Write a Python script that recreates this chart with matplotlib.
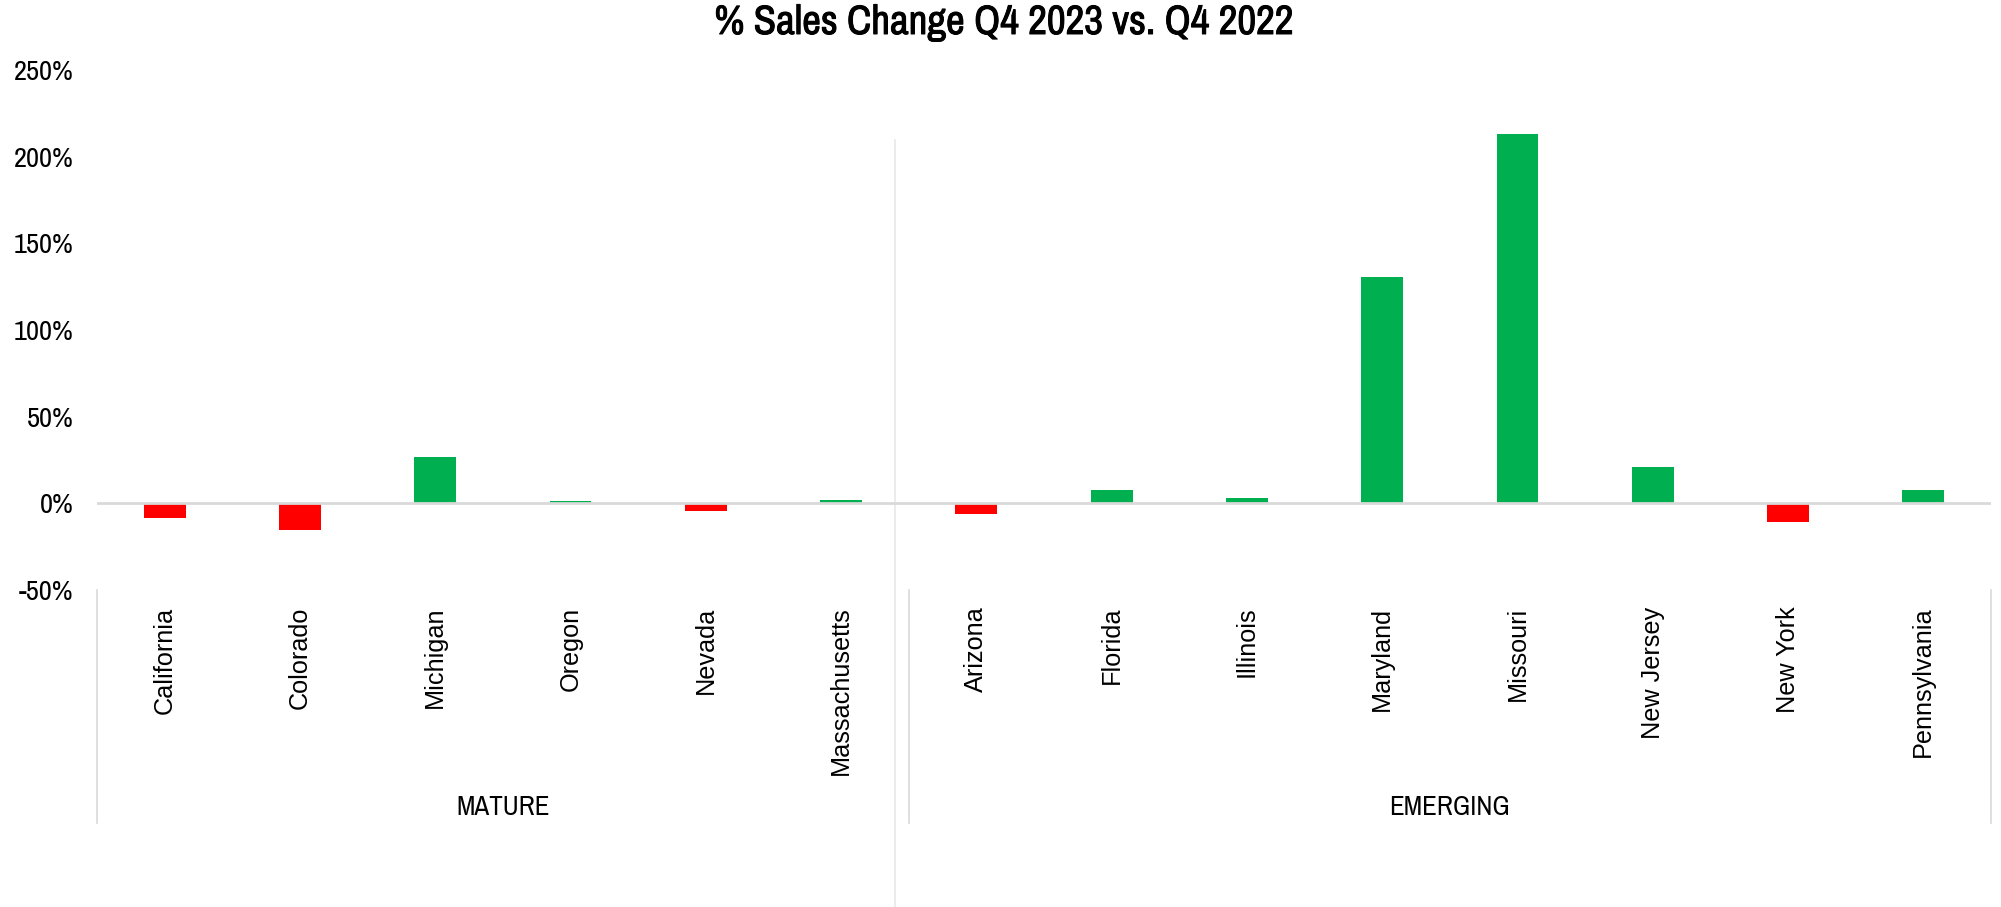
import matplotlib
matplotlib.use("Agg")
import matplotlib.pyplot as plt
import matplotlib.transforms as mtransforms
import matplotlib.patheffects as pe

# data (% change)
groups = ['MATURE', 'EMERGING']
mature_states = ['California', 'Colorado', 'Michigan', 'Oregon', 'Nevada', 'Massachusetts']
mature_vals = [-8.2, -15.2, 26.8, 1.3, -4.2, 2.0]
emerging_states = ['Arizona', 'Florida', 'Illinois', 'Maryland', 'Missouri',
                   'New Jersey', 'New York', 'Pennsylvania']
emerging_vals = [-6.0, 7.9, 3.3, 130.7, 213.2, 21.0, -10.6, 7.9]
yticks = [-50, 0, 50, 100, 150, 200, 250]

states = mature_states + emerging_states
vals = mature_vals + emerging_vals
green = '#00B050'
red = '#FF0000'
grey = '#D9D9D9'
narrow = ['Archivo Narrow', 'Liberation Sans Narrow', 'DejaVu Sans']

fig = plt.figure(figsize=(20.01, 9.07), dpi=100)
ax = fig.add_axes([97/2001, 1 - 590/907, (1991 - 97)/2001, 520/907])

x = list(range(len(states)))
colors = [green if v >= 0 else red for v in vals]
ax.bar(x, vals, width=0.31, color=colors, zorder=2)
ax.axhline(0, color=grey, lw=2, zorder=3)

ax.set_xlim(-0.5, len(states) - 0.5)
ax.set_ylim(-50, 250)
ax.set_yticks(yticks)
ax.set_yticklabels([f'{t}%' for t in yticks], family=narrow, fontsize=20.5, color='black')
ax.set_xticks(x)
ax.set_xticklabels(states, rotation=90, family='Liberation Sans', fontsize=18.2)
ax.tick_params(axis='y', length=0, pad=17)
ax.tick_params(axis='x', length=0, pad=12)
for s in ax.spines.values():
    s.set_visible(False)

# group separators and labels under the axis
trans = mtransforms.blended_transform_factory(ax.transData, ax.transAxes)
n1 = len(mature_states)
for xs in [-0.5, n1 - 0.5, len(states) - 0.5]:
    ax.plot([xs, xs], [0, -0.448], color=grey, lw=1.2, transform=trans, clip_on=False)
ax.text((n1 - 1) / 2, -0.419, groups[0], transform=trans, ha='center', va='center',
        family=narrow, fontsize=19.5, color='black')
ax.text(n1 + (len(emerging_states) - 1) / 2, -0.419, groups[1], transform=trans,
        ha='center', va='center', family=narrow, fontsize=19.5, color='black')

# thin divider line between the two groups
ax.plot([n1 - 0.6, n1 - 0.6], [0.865, -0.61], color='#E7E7E7', lw=1.2,
        transform=trans, clip_on=False)

fig.text(1004/2001, 1 - 34/907, '% Sales Change Q4 2023 vs. Q4 2022', ha='center',
         va='baseline', family=narrow, fontsize=29.5, color='black',
         path_effects=[pe.withStroke(linewidth=0.7, foreground='black')])

fig.savefig('out.png', dpi=100)
